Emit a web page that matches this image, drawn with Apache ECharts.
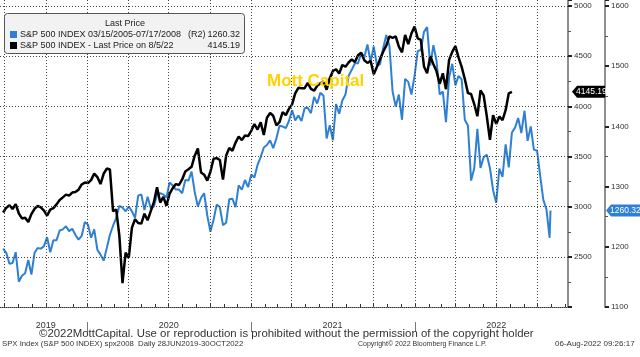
<!DOCTYPE html>
<html><head><meta charset="utf-8">
<script src="https://cdn.jsdelivr.net/npm/echarts@6/dist/echarts.min.js"></script>
<style>html,body{margin:0;padding:0;background:#fff;overflow:hidden}#c{width:640px;height:357px}</style>
</head><body><div id="c"></div>
<script>
// ---- DATA ----
// Black: S&P 500 weekly, 28 Jun 2019 -> 5 Aug 2022 (outer right axis)
const blackStart = '2019-06-28';
const blackWeekly = [
 2942,2990,3014,2977,3026,2932,2883,2889,2847,2926,2979,3007,2992,2961,2910,2970,2986,3023,3067,3093,3120,3110,3141,3146,3169,3221,3240,
 3235,3265,3330,3295,3225,3328,3380,3370,2954,2972,2711,2237,2541,2489,2790,2875,2837,2831,2930,2864,2955,3044,3194,3041,3098,3009,3130,3185,3225,3216,3271,3351,3373,3397,3508,3580,3341,3319,3260,3348,3477,3484,3465,3270,3509,3585,3558,3638,3699,3663,3709,3703,
 3756,3824,3768,3841,3714,3887,3934,3906,3811,3842,3943,3913,3975,4020,4129,4185,4180,4181,4233,4174,4156,4204,4230,4247,4166,4281,4352,4370,4327,4412,4395,4437,4468,4442,4509,4535,4459,4433,4455,4320,4391,4471,4545,4605,4697,4683,4698,4595,4538,4712,4620,4726,4796,
 4677,4663,4398,4330,4500,4419,4349,4225,4329,4171,4463,4543,4600,4488,4393,4272,4132,4123,4023,3901,4158,4109,3901,3666,3912,3825,3899,3863,3962,4130,4145.19
];
// Blue: S&P 500 weekly, 15 Mar 2005 -> 15 Jul 2008, then 17 Jul 2008 (inner right axis, R2)
const blueStart = '2005-03-15';
const blueWeekly = [
 1197,
 1190,1172,1173,1191,1142,1152,1156,1178,1154,1190,1198,1197,1201,1216,1191,1211,1211,1227,1229,1234,1226,1230,1220,1212,1218,1241,1237,1215,1229,1195,1187,1177,1198,1220,1235,1248,1268,1265,1259,1267,1259,1248,
 1285,1287,1261,1283,1264,1267,1287,1289,1287,1282,1307,1302,1295,1295,1289,1311,1310,1325,1291,1267,1281,1289,1252,1225,1245,1270,1266,1236,1240,1279,1280,1266,1302,1295,1311,1299,1320,1315,1336,1349,1365,1369,1377,1364,1380,1401,1400,1397,1409,1427,1410,1418,
 1409,1430,1431,1422,1449,1438,1456,1451,1380,1402,1377,1437,1421,1443,1453,1484,1494,1505,1505,1522,1515,1536,1507,1533,1502,1503,1530,1552,1534,1458,1433,1453,1411,1479,1474,1453,1484,1525,1527,1557,1565,1501,1535,1509,1453,1458,1407,1481,1504,1468,1484,1478,
 1411,1401,1310,1330,1396,1331,1349,1353,1331,1294,1273,1330,1316,1370,1332,1390,1398,1414,1389,1426,1376,1400,1361,1360,1318,1278,1262,
 1215
];
const blueLastDate = '2008-07-17';
const blueLast = 1260.32;
const blueShiftDays = 5218; // 15 Mar 2005 -> 28 Jun 2019
const blackLast = 4145.19;
const outerTicks = [2500, 3000, 3500, 4000, 4500, 5000];
const yearLabels = ['2019', '2020', '2021', '2022'];
const yearLabelDates = ['2019-10-01', '2020-07-01', '2021-07-01', '2022-07-01'];
const yearSepDates = ['2020-01-01', '2021-01-01', '2022-01-01'];
const legendTitle = 'Last Price';
const legendNames = ['S&P 500 INDEX 03/15/2005-07/17/2008', 'S&P 500 INDEX - Last Price on 8/5/22'];

// ---- BUILD ----
const DAY = 86400000;
const ts = s => Date.parse(s + 'T00:00:00Z');
const blackData = blackWeekly.map((v, i) => [ts(blackStart) + i * 7 * DAY, v]);
const blueData = blueWeekly.map((v, i) => [ts(blueStart) + (i * 7 + blueShiftDays) * DAY, v]);
blueData.push([ts(blueLastDate) + blueShiftDays * DAY, blueLast]);

const xMin = ts('2019-06-21'), xMax = ts('2022-12-08');
const monthTicks = [], quarterLines = [];
for (let y = 2019; y <= 2022; y++) for (let m = 0; m < 12; m++) {
  const t = Date.UTC(y, m, 1);
  if (t < xMin || t > xMax) continue;
  monthTicks.push(t);
  if (m % 3 === 0) quarterLines.push({ xAxis: t });
}
const labelTs = yearLabelDates.map(ts);
const gridLineStyle = { color: '#444', width: 1, type: [1, 2] };
const FONT = '"Liberation Sans", Arial, sans-serif';
const plain = v => String(v);

const chart = echarts.init(document.getElementById('c'), null, { renderer: 'canvas' });
chart.setOption({
  animation: false,
  backgroundColor: '#fff',
  grid: { left: 0, right: 72, top: 0, bottom: 50, containLabel: false },
  xAxis: [{
    type: 'value', min: xMin, max: xMax, position: 'bottom', scale: true,
    axisLine: { show: true, lineStyle: { color: '#333', width: 1, type: [1, 1] } },
    axisTick: { show: true, inside: true, length: 3, customValues: monthTicks, lineStyle: { color: '#333' } },
    axisLabel: { show: true, customValues: labelTs, margin: 14, fontSize: 9, fontFamily: FONT, color: '#333',
      formatter: v => { const i = labelTs.indexOf(v); return i >= 0 ? yearLabels[i] : ''; } },
    splitLine: { show: false }
  }, {
    type: 'value', min: xMin, max: xMax, position: 'bottom', offset: 15, scale: true,
    axisLine: { show: false },
    axisTick: { show: true, length: 10, customValues: yearSepDates.map(ts), lineStyle: { color: '#777', width: 1 } },
    axisLabel: { show: false }, splitLine: { show: false }
  }],
  yAxis: [{
    type: 'value', position: 'right', min: 2000, max: 5060, interval: 500,
    axisLine: { show: true, lineStyle: { color: '#8f8f8f', width: 2 } },
    axisTick: { show: true, length: 4, lineStyle: { color: '#222', width: 2 } },
    minorTick: { show: true, splitNumber: 2, length: 3, lineStyle: { color: '#555' } },
    axisLabel: { margin: 6, fontSize: 8, fontFamily: FONT, color: '#333', showMinLabel: false, showMaxLabel: false, formatter: plain },
    splitLine: { show: false }
  }, {
    type: 'value', position: 'right', offset: 37, min: 1100, max: 1610, interval: 100,
    axisLine: { show: true, lineStyle: { color: '#8f8f8f', width: 2 } },
    axisTick: { show: true, length: 4, lineStyle: { color: '#222', width: 2 } },
    minorTick: { show: true, splitNumber: 2, length: 3, lineStyle: { color: '#555' } },
    axisLabel: { margin: 6, fontSize: 8, fontFamily: FONT, color: '#333', showMinLabel: true, showMaxLabel: false, formatter: plain },
    splitLine: { show: false }
  }],
  series: [{
    type: 'line', name: 'grid', data: [], z: 1, silent: true,
    markLine: { silent: true, symbol: ['none', 'none'], label: { show: false }, lineStyle: gridLineStyle, animation: false,
      data: quarterLines.concat(outerTicks.map(v => ({ yAxis: v }))) }
  }, {
    type: 'line', name: legendNames[0], xAxisIndex: 0, yAxisIndex: 1, data: blueData, showSymbol: false, z: 2,
    lineStyle: { color: '#2F80D4', width: 2 }, itemStyle: { color: '#2F80D4' }
  }, {
    type: 'line', name: legendNames[1], xAxisIndex: 0, yAxisIndex: 0, data: blackData, showSymbol: false, z: 3,
    lineStyle: { color: '#000', width: 2.5 }, itemStyle: { color: '#000' }
  }]
});

const yBlack = chart.convertToPixel({ yAxisIndex: 0 }, blackLast);
const yBlue = chart.convertToPixel({ yAxisIndex: 1 }, blueLast);
const txt = (text, x, y, size, opts) => Object.assign({ type: 'text', x, y, z: 100, silent: true,
  style: Object.assign({ text, font: size + 'px ' + FONT, fill: '#222', textVerticalAlign: 'middle' }, opts || {}) });
const tag = (x0, x1, y, fill, label) => [
  { type: 'polygon', z: 100, silent: true, shape: { points: [[x0, y], [x0 + 5, y - 6], [x1, y - 6], [x1, y + 6], [x0 + 5, y + 6]] },
    style: { fill } },
  { type: 'text', z: 101, x: x0 + 4, y, silent: true, style: { text: label, font: '8.5px ' + FONT, fill: '#fff', textVerticalAlign: 'middle' } }
];
chart.setOption({ graphic: [
  { type: 'rect', z: 100, silent: true, shape: { x: 4.5, y: 13.5, width: 240, height: 40, r: 3 }, style: { fill: '#f2f2f2', stroke: '#555', lineWidth: 1 } },
  txt(legendTitle, 125, 24, 9, { textAlign: 'center' }),
  { type: 'rect', z: 101, silent: true, shape: { x: 10, y: 31, width: 7, height: 7 }, style: { fill: '#2F80D4' } },
  txt(legendNames[0], 20, 34.5, 9),
  txt('(R2)', 188, 34.5, 9),
  txt(blueLast.toFixed(2), 240, 34.5, 9, { textAlign: 'right' }),
  { type: 'rect', z: 101, silent: true, shape: { x: 10, y: 42, width: 7, height: 7 }, style: { fill: '#000' } },
  txt(legendNames[1], 20, 45.5, 9),
  txt(blackLast.toFixed(2), 240, 45.5, 9, { textAlign: 'right' }),
  txt('Mott Capital', 267, 81, 17, { font: 'bold 17px ' + FONT, fill: '#FFD200' }),
  ...tag(572, 605, yBlack, '#000', blackLast.toFixed(2)),
  ...tag(606, 642, yBlue, '#2F80D4', blueLast.toFixed(2)),
  txt('\u00A92022MottCapital. Use or reproduction is prohibited without the permission of the copyright holder', 39, 334, 11.4, { fill: '#333' }),
  txt('SPX Index (S&P 500 INDEX) spx2008  Daily 28JUN2019-30OCT2022', 2, 344, 7.75, { fill: '#333' }),
  txt('Copyright\u00A9 2022 Bloomberg Finance L.P.', 358, 344, 7, { fill: '#333' }),
  txt('06-Aug-2022 09:26:17', 555, 344, 8, { fill: '#333' })
] });
</script></body></html>
